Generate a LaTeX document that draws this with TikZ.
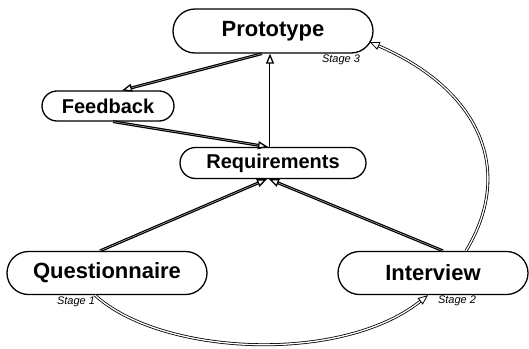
\documentclass[tikz,border=0pt]{standalone}
\usepackage{fontspec}
\setmainfont{Liberation Sans}
\usetikzlibrary{arrows.meta,shapes.misc}

\begin{document}
\begin{tikzpicture}[
   x=1pt, y=-1pt,
   stagebox/.style={rounded rectangle, draw, line width=1.3pt, inner sep=0pt,
                    font=\bfseries\fontsize{22}{26}\selectfont},
   smallbox/.style={stagebox, font=\bfseries\fontsize{20}{24}\selectfont},
   note/.style={inner sep=0pt, font=\itshape\fontsize{11}{13}\selectfont},
   link/.style={double, line width=1.3pt, double distance=0.3pt,
                -{Triangle[open,length=10pt,width=8pt]}},
   loop/.style={double, line width=0.8pt, double distance=1.3pt,
                -{Triangle[open,length=10pt,width=8pt]}}]
\useasboundingbox (0,0) rectangle (529,348);

\node[stagebox, minimum width=200pt, minimum height=44pt] (proto) at (273,31) {Prototype};
\node[smallbox, minimum width=132pt, minimum height=30pt] (feed) at (108,106) {Feedback};
\node[smallbox, minimum width=186pt, minimum height=31pt] (req) at (273,163) {Requirements};
\node[stagebox, minimum width=200pt, minimum height=43pt] (quest) at (107,273) {Questionnaire};
\node[stagebox, minimum width=190pt, minimum height=43pt] (inter) at (433,273) {Interview};

\node[note] (s3) at (341,60) {Stage 3};
\node[note] (s1) at (76,302) {Stage 1};
\node[note] (s2) at (457,301) {Stage 2};

\draw[link] ([xshift=-11pt]proto.south) -- ([xshift=14pt]feed.north);
\draw[link] ([xshift=5pt]feed.south) -- ([xshift=-5pt]req.north);
\draw[link] ([xshift=-3pt]req.north) -- ([xshift=-3pt]proto.south);
\draw[link] ([xshift=-7pt]quest.north) -- ([xshift=-6pt]req.south);
\draw[link] ([xshift=10pt]inter.north) -- ([xshift=-4pt]req.south);

\draw[loop] ([xshift=-12pt]quest.south) .. controls (160,355) and (340,365) .. ([xshift=-5pt]inter.south);
\draw[loop] ([xshift=33pt]inter.north) .. controls (515,170) and (480,90) .. ([shift={(-4pt,-11pt)}]proto.east);

\end{tikzpicture}
\end{document}
